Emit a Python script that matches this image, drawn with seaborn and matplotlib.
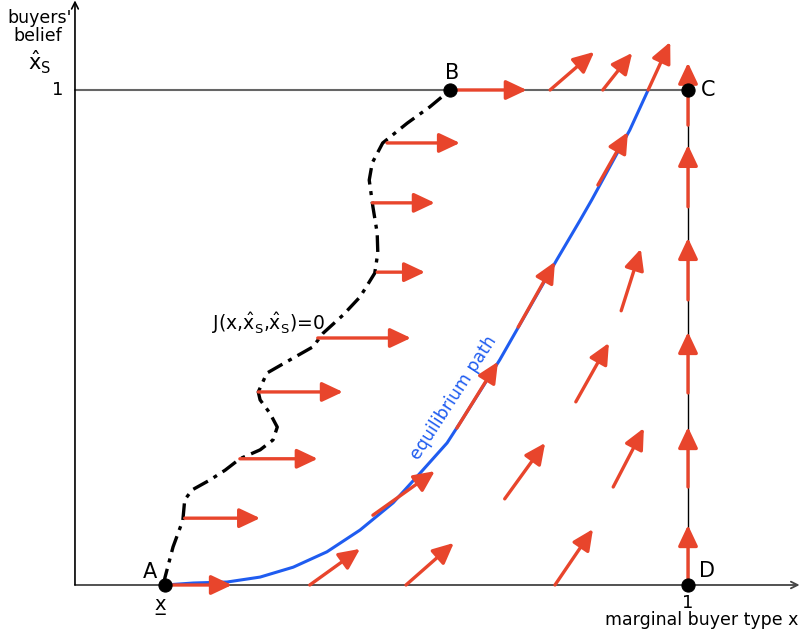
import numpy as np
import pandas as pd
import matplotlib.pyplot as plt
import seaborn as sns

# J(x, xs, xs)=0 locus (x: buyer type, y: belief)
j_x = [0.144, 0.147, 0.160, 0.176, 0.179, 0.191, 0.220, 0.245, 0.269, 0.302, 0.323, 0.330,
       0.318, 0.302, 0.299, 0.313, 0.351, 0.388, 0.405, 0.437, 0.465, 0.489, 0.494, 0.493,
       0.486, 0.480, 0.485, 0.502, 0.542, 0.579, 0.612]
j_y = [0.0, 0.016, 0.077, 0.131, 0.172, 0.192, 0.212, 0.232, 0.255, 0.273, 0.293, 0.319,
       0.347, 0.374, 0.390, 0.428, 0.455, 0.481, 0.509, 0.545, 0.582, 0.630, 0.671, 0.711,
       0.764, 0.818, 0.853, 0.893, 0.933, 0.966, 1.0]

# equilibrium path
eq_x = [0.147, 0.193, 0.248, 0.302, 0.356, 0.411, 0.465, 0.519, 0.563, 0.607, 0.631, 0.693,
        0.786, 0.824, 0.843, 0.905, 0.935]
eq_y = [0.0, 0.004, 0.006, 0.016, 0.036, 0.067, 0.111, 0.166, 0.226, 0.287, 0.333, 0.455,
        0.657, 0.737, 0.778, 0.919, 1.0]

# direction arrows: tail (x0, y0) -> head (x1, y1)
arr_x0 = [0.155, 0.179, 0.269, 0.299, 0.396, 0.493, 0.485, 0.509, 0.612,
          0.775, 0.861, 0.935,
          0.486, 0.623, 0.723, 0.853,
          0.383, 0.540, 0.783, 0.701, 0.878, 0.817, 0.891,
          1.0, 1.0, 1.0, 1.0, 1.0, 1.0]
arr_y0 = [0.0, 0.135, 0.255, 0.390, 0.499, 0.632, 0.772, 0.893, 1.0,
          1.0, 1.0, 1.0,
          0.141, 0.317, 0.521, 0.808,
          0.0, 0.0, 0.0, 0.174, 0.198, 0.370, 0.554,
          0.929, 0.764, 0.576, 0.388, 0.198, 0.0]
arr_x1 = [0.256, 0.302, 0.396, 0.437, 0.548, 0.571, 0.587, 0.628, 0.737,
          0.847, 0.909, 0.971,
          0.587, 0.690, 0.783, 0.902,
          0.465, 0.618, 0.845, 0.767, 0.928, 0.871, 0.923,
          1.0, 1.0, 1.0, 1.0, 1.0, 1.0]
arr_y1 = [0.0, 0.135, 0.255, 0.390, 0.499, 0.632, 0.772, 0.893, 1.0,
          1.077, 1.075, 1.097,
          0.230, 0.451, 0.653, 0.915,
          0.073, 0.085, 0.113, 0.287, 0.317, 0.489, 0.679,
          1.055, 0.889, 0.701, 0.511, 0.319, 0.121]

pt_labels = ["A", "B", "C", "D"]
pt_x = [0.147, 0.612, 1.0, 1.0]
pt_y = [0.0, 1.0, 1.0, 0.0]

RED = "#e8452c"
BLUE = "#1f5cf0"

sns.set_theme(style="white")
plt.rcParams["font.family"] = ["DejaVu Sans"]
plt.rcParams["text.color"] = "black"
plt.rcParams["mathtext.fontset"] = "dejavusans"
plt.rcParams["mathtext.default"] = "regular"

fig = plt.figure(figsize=(8, 6.39), dpi=100)
ax = fig.add_axes([0, 0, 1, 1])
ax.set_xlim(-0.1223, 1.1827)
ax.set_ylim(-0.1091, 1.1818)
ax.axis("off")

# axes with arrow tips
ax.annotate("", xy=(1.182, 0), xytext=(0, 0),
            arrowprops=dict(arrowstyle="->", color="#444444", lw=1.3, shrinkA=0, shrinkB=0))
ax.annotate("", xy=(0, 1.181), xytext=(0, 0),
            arrowprops=dict(arrowstyle="->", color="black", lw=1.2, shrinkA=0, shrinkB=0))
ax.plot([0, 1], [1, 1], color="#666666", lw=1.5, zorder=1)
ax.plot([1, 1], [0, 1], color="black", lw=1.0, zorder=1)

# curves
jdf = pd.DataFrame({"x": j_x, "y": j_y})
sns.lineplot(data=jdf, x="x", y="y", sort=False, estimator=None, color="black",
             lw=2.4, linestyle=(0, (5, 2, 1.2, 2)), ax=ax, zorder=3)
eqdf = pd.DataFrame({"x": eq_x, "y": eq_y})
sns.lineplot(data=eqdf, x="x", y="y", sort=False, estimator=None, color=BLUE,
             lw=2.2, ax=ax, zorder=3)

# red direction arrows
for x0, y0, x1, y1 in zip(arr_x0, arr_y0, arr_x1, arr_y1):
    ax.annotate("", xy=(x1, y1), xytext=(x0, y0),
                arrowprops=dict(arrowstyle="-|>,head_length=0.7,head_width=0.33",
                                color=RED, lw=2.4, shrinkA=0, shrinkB=0,
                                mutation_scale=18), zorder=4)

# points
sns.scatterplot(x=pt_x, y=pt_y, color="black", s=90, edgecolor="black", ax=ax, zorder=6)
lab_dx = [-0.025, 0.003, 0.033, 0.031]
lab_dy = [0.026, 0.034, 0.0, 0.028]
for lab, x, y, dx, dy in zip(pt_labels, pt_x, pt_y, lab_dx, lab_dy):
    ax.text(x + dx, y + dy, lab, fontsize=15, ha="center", va="center", zorder=7)

# tick-like labels
ax.text(-0.029, 1.0, "1", fontsize=13, ha="center", va="center")
ax.text(1.0, -0.036, "1", fontsize=13, ha="center", va="center")
ax.text(0.139, -0.042, "x\u0332", fontsize=14, ha="center", va="center")
ax.text(1.022, -0.071, "marginal buyer type x", fontsize=12.5, ha="center", va="center")
ax.text(-0.057, 1.145, "buyers'", fontsize=12.5, ha="center", va="center")
ax.text(-0.060, 1.110, "belief", fontsize=12.5, ha="center", va="center")
ax.text(-0.057, 1.055, r"$\hat{x}_S$", fontsize=15, ha="center", va="center")

ax.text(0.315, 0.529, r"J(x,$\hat{x}_S$,$\hat{x}_S$)=0", fontsize=13.5,
        ha="center", va="center")
ax.text(0.618, 0.378, "equilibrium path", fontsize=12.5, color=BLUE, rotation=57,
        rotation_mode="anchor", ha="center", va="center")

fig.savefig("out.png", dpi=100)
